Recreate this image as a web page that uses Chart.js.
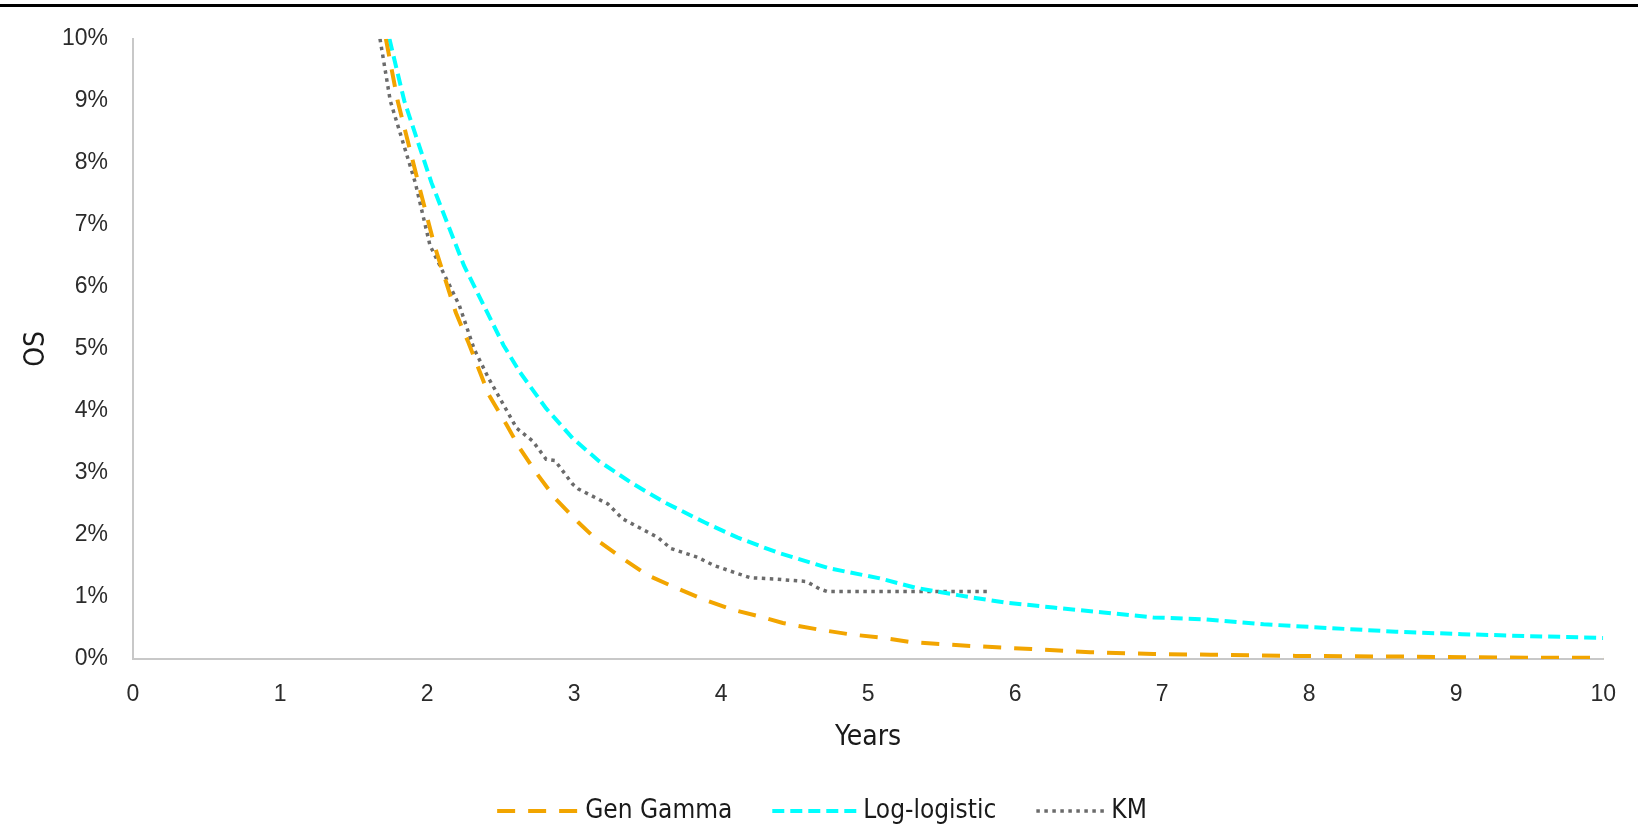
<!DOCTYPE html>
<html>
<head>
<meta charset="utf-8">
<title>OS extrapolation</title>
<script src="https://cdn.jsdelivr.net/npm/chart.js@4.4.1/dist/chart.umd.min.js"></script>
<style>
  html, body { margin: 0; padding: 0; background: #fff; }
  #wrap { position: relative; width: 1638px; height: 829px; }
  #osChart { position: absolute; left: 0; top: 0; }
  #topRule { position: absolute; left: 0; top: 4px; width: 1638px; height: 3px; background: #000; }
</style>
</head>
<body>
<div id="wrap">
  <canvas id="osChart" width="1638" height="829"></canvas>
  <div id="topRule"></div>
</div>
<script>
// values (years, OS in %)
const genGammaYears = [1.72, 1.80, 1.94, 2.05, 2.195, 2.28, 2.42, 2.54, 2.63, 2.75, 2.875, 3.03, 3.16, 3.35, 3.50, 3.70, 3.86, 4.07, 4.29, 4.42, 4.65, 4.87, 5.10, 5.30, 5.70, 6.11, 6.51, 6.94, 7.33, 7.91, 8.59, 9.48, 10];
const genGammaOS = [10.0, 9.0, 7.68, 6.67, 5.59, 5.11, 4.26, 3.78, 3.40, 2.98, 2.58, 2.20, 1.91, 1.59, 1.35, 1.14, 0.98, 0.80, 0.67, 0.58, 0.48, 0.40, 0.34, 0.27, 0.21, 0.16, 0.11, 0.08, 0.07, 0.05, 0.04, 0.02, 0.02];

const logLogYears = [1.744, 1.845, 2.03, 2.25, 2.52, 2.63, 2.81, 2.99, 3.17, 3.39, 3.62, 3.89, 4.11, 4.38, 4.74, 5.08, 5.32, 5.61, 5.93, 6.26, 6.60, 6.94, 7.29, 7.69, 8.13, 8.59, 9.04, 9.48, 10];
const logLogOS = [10.0, 9.0, 7.68, 6.35, 5.06, 4.63, 4.04, 3.56, 3.19, 2.84, 2.52, 2.20, 1.96, 1.72, 1.46, 1.30, 1.15, 1.03, 0.91, 0.83, 0.75, 0.67, 0.64, 0.56, 0.50, 0.44, 0.40, 0.37, 0.34];

const kmYears = [1.68, 1.75, 1.92, 2.02, 2.22, 2.32, 2.42, 2.52, 2.61, 2.72, 2.81, 2.87, 2.99, 3.03, 3.23, 3.33, 3.57, 3.66, 3.84, 3.95, 4.11, 4.20, 4.36, 4.58, 4.67, 4.72, 5.83];
const kmOS = [10.0, 9.0, 7.68, 6.67, 5.70, 5.00, 4.52, 4.10, 3.72, 3.51, 3.22, 3.20, 2.82, 2.74, 2.50, 2.26, 1.96, 1.78, 1.64, 1.51, 1.38, 1.31, 1.29, 1.25, 1.13, 1.09, 1.09];

const seriesNames = ['Gen Gamma', 'Log-logistic', 'KM'];
const xTicks = { min: 0, max: 10, step: 1 };
const yTicks = { min: 0, max: 10, step: 1 };

const tickFont = { family: '"Liberation Sans", Arial, sans-serif', size: 23 };
const titleFont = { family: '"DejaVu Sans Condensed", "DejaVu Sans", sans-serif', size: 28 };
const legendFont = '26px "DejaVu Sans Condensed", "DejaVu Sans", sans-serif';

function toPoints(xs, ys) {
  return xs.map((x, i) => ({ x: x, y: ys[i] }));
}

// Excel-style legend: dashed sample line, then label, centred under the plot
const legendSamples = [81, 84, 68];
const lineLegend = {
  id: 'lineLegend',
  afterDraw(chart) {
    const ctx = chart.ctx;
    const y = 811;
    ctx.save();
    ctx.font = legendFont;
    const items = chart.data.datasets.map((ds, i) => ({
      ds: ds, w: legendSamples[i], tw: ctx.measureText(ds.label).width
    }));
    const gap = 7, itemGap = 40;
    const total = items.reduce((s, it) => s + it.w + gap + it.tw, 0) + itemGap * (items.length - 1);
    let x = (chart.width - total) / 2 + 3;
    items.forEach(it => {
      ctx.beginPath();
      ctx.strokeStyle = it.ds.borderColor;
      ctx.lineWidth = it.ds.borderWidth;
      ctx.lineCap = 'butt';
      ctx.setLineDash(it.ds.borderDash);
      ctx.moveTo(x, y);
      ctx.lineTo(x + it.w, y);
      ctx.stroke();
      ctx.setLineDash([]);
      ctx.fillStyle = '#1a1a1a';
      ctx.textBaseline = 'middle';
      ctx.textAlign = 'left';
      ctx.fillText(it.ds.label, x + it.w + gap, y);
      x += it.w + gap + it.tw + itemGap;
    });
    ctx.restore();
  }
};

new Chart(document.getElementById('osChart'), {
  type: 'line',
  data: {
    datasets: [
      {
        label: seriesNames[0], data: toPoints(genGammaYears, genGammaOS),
        borderColor: '#F2A500', borderWidth: 4, borderDash: [18, 13],
        pointRadius: 0, tension: 0, fill: false
      },
      {
        label: seriesNames[1], data: toPoints(logLogYears, logLogOS),
        borderColor: '#00FFFF', borderWidth: 4, borderDash: [12, 6],
        pointRadius: 0, tension: 0, fill: false
      },
      {
        label: seriesNames[2], data: toPoints(kmYears, kmOS),
        borderColor: '#6b6b6b', borderWidth: 3.5, borderDash: [3.5, 4.5],
        pointRadius: 0, tension: 0, fill: false
      }
    ]
  },
  options: {
    responsive: false,
    animation: false,
    layout: { padding: { left: 0, right: 20, top: 35, bottom: 70 } },
    plugins: { legend: { display: false }, tooltip: { enabled: false } },
    scales: {
      x: {
        type: 'linear', min: xTicks.min, max: xTicks.max,
        ticks: { stepSize: xTicks.step, padding: 22, color: '#2b2b2b', font: tickFont },
        grid: { display: false, drawTicks: false },
        border: { display: true, color: '#C8C8C8', width: 2 },
        title: { display: true, text: 'Years', color: '#1a1a1a', font: titleFont, padding: { top: 0, bottom: 4 } },
        afterFit: s => { s.height = 100; }
      },
      y: {
        type: 'linear', min: yTicks.min, max: yTicks.max,
        ticks: { stepSize: yTicks.step, padding: 25, color: '#2b2b2b', font: tickFont, callback: v => v + '%' },
        grid: { display: false, drawTicks: false },
        border: { display: true, color: '#C8C8C8', width: 2 },
        title: { display: true, text: 'OS', color: '#1a1a1a', font: titleFont, padding: { top: 20, bottom: 0 } },
        afterFit: s => { s.width = 133; }
      }
    }
  },
  plugins: [lineLegend]
});
</script>
</body>
</html>
